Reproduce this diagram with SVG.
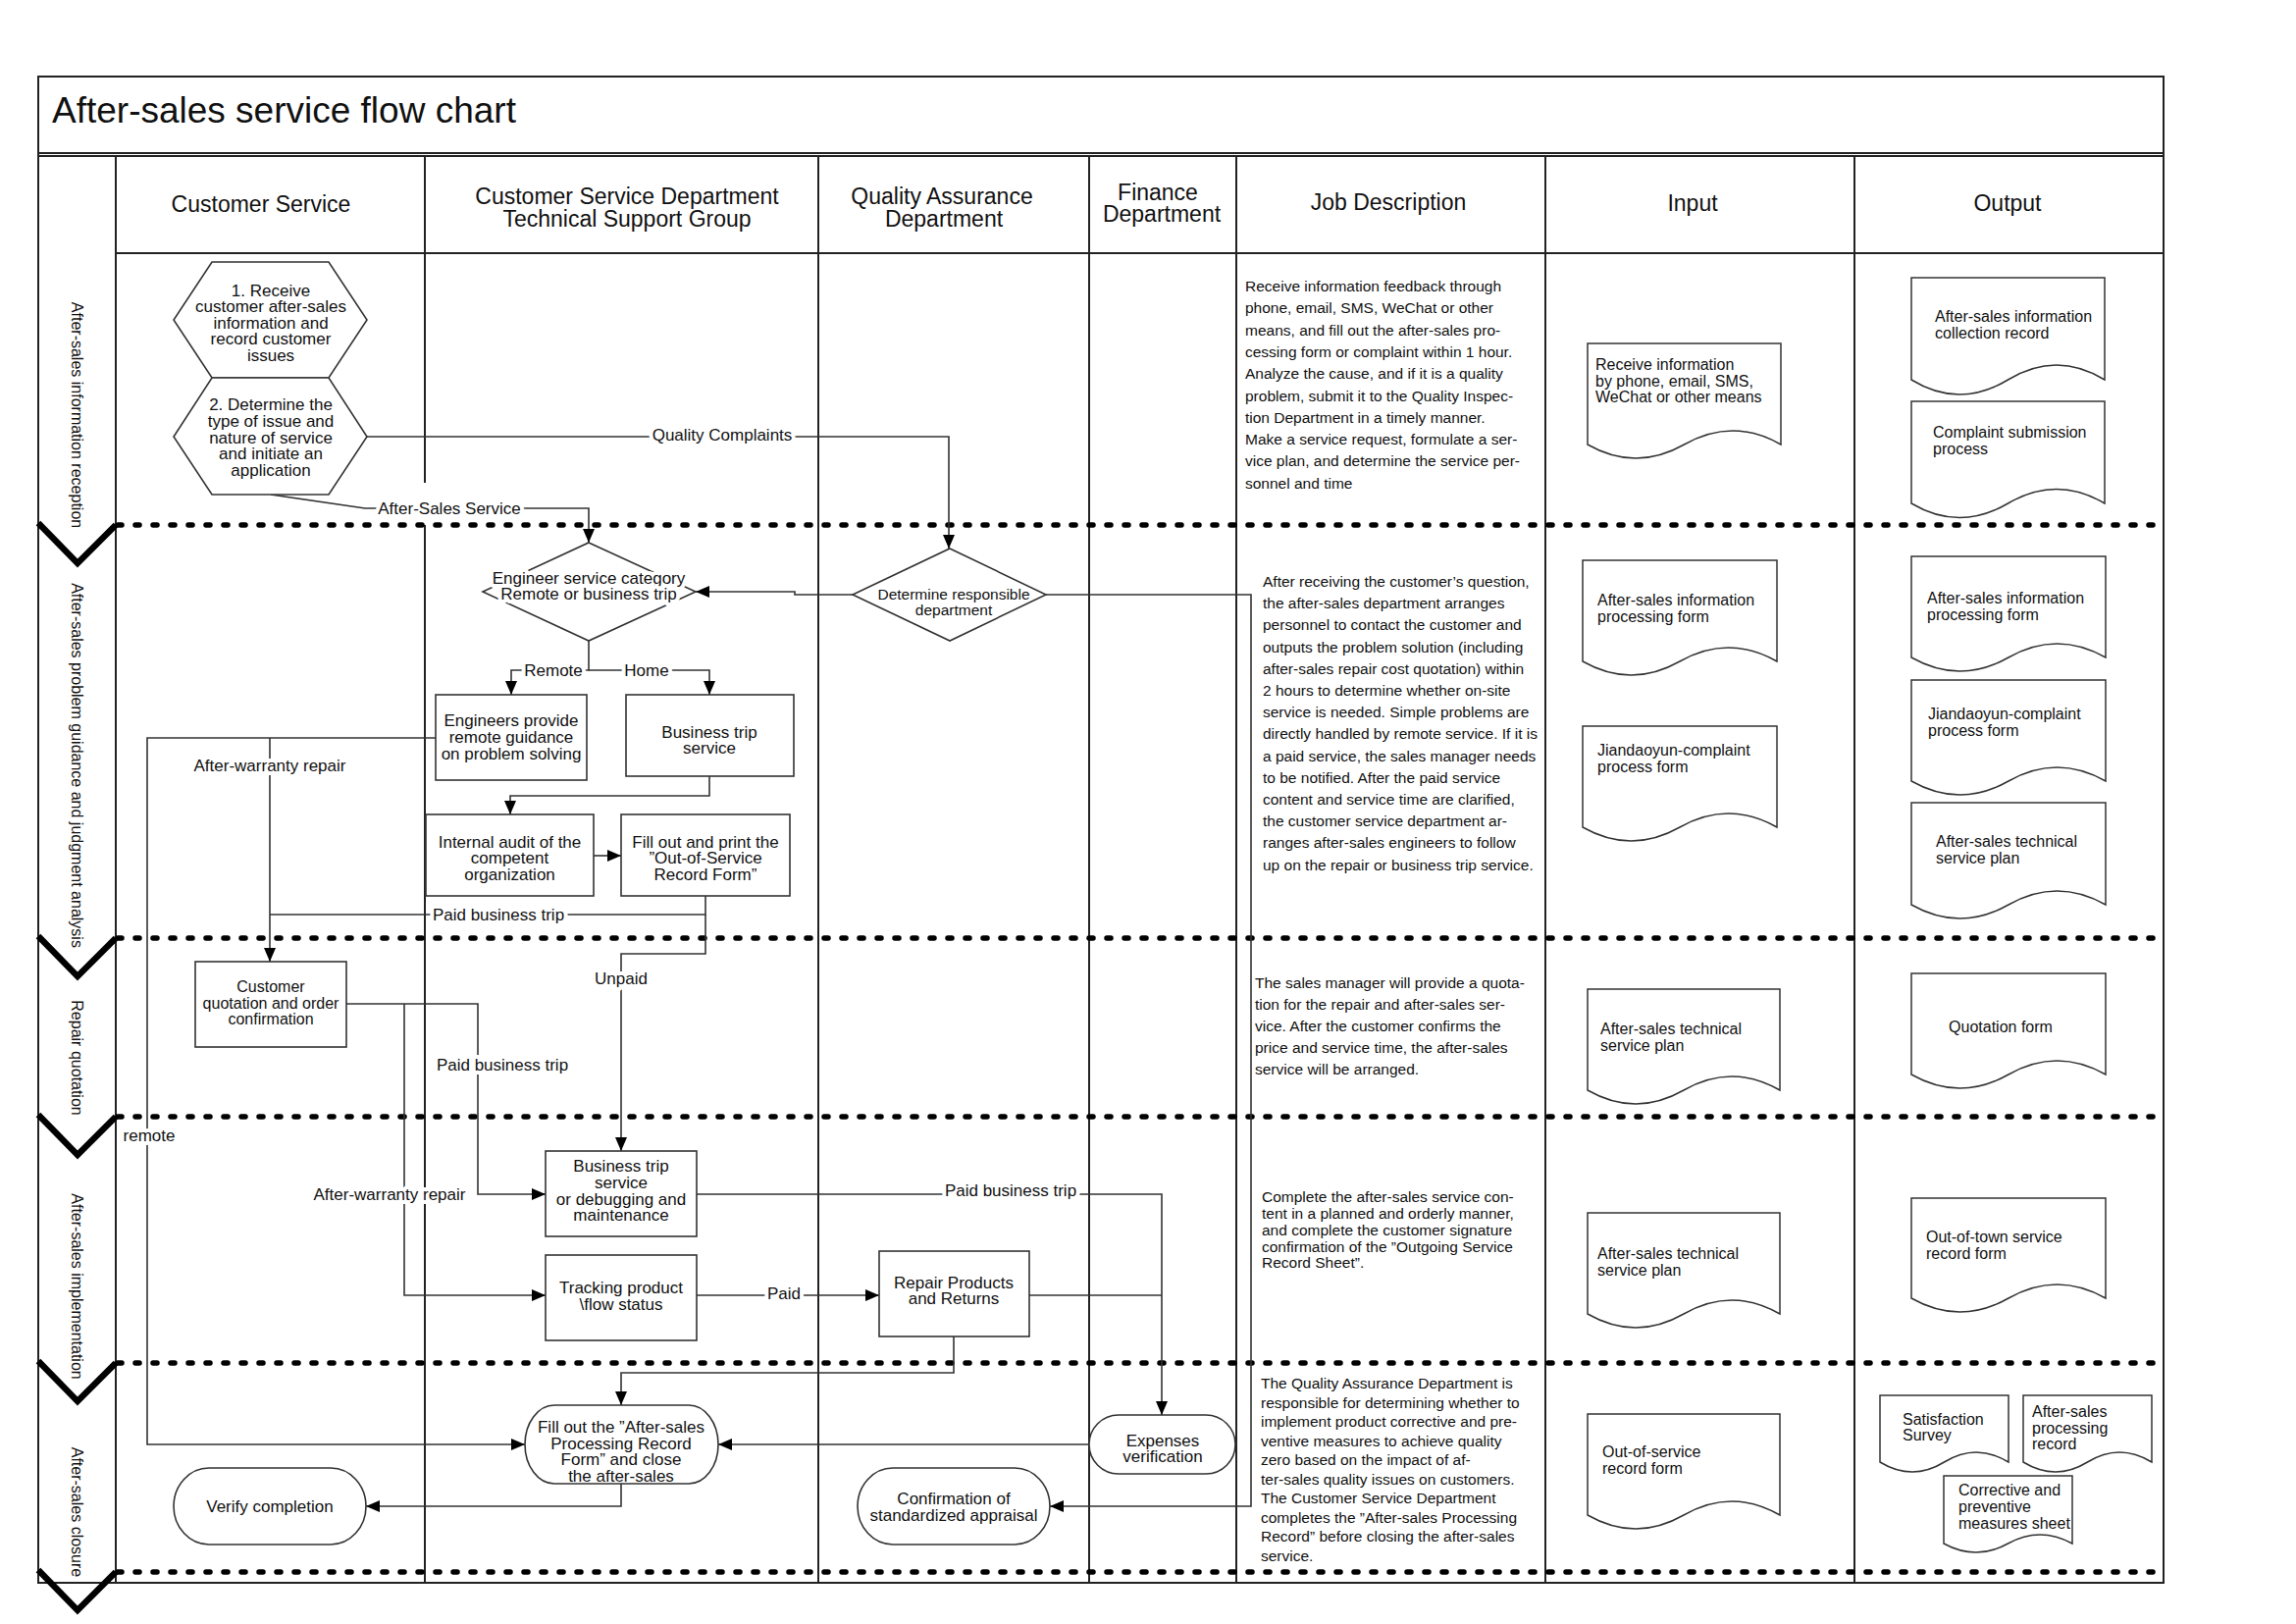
<svg xmlns="http://www.w3.org/2000/svg" width="2340" height="1655" viewBox="0 0 2340 1655">
<style>
.t{font-family:"Liberation Sans",Arial,sans-serif;fill:#111;text-anchor:middle;dominant-baseline:central}
.l{font-family:"Liberation Sans",Arial,sans-serif;fill:#111;text-anchor:start;dominant-baseline:central}
.h{font-size:23px}
.n{font-size:17px}
.d{font-size:16px}
.j{font-size:15.5px}
.lb{font-size:17px;stroke:#fff;stroke-width:8px;stroke-linejoin:round;paint-order:stroke}
.grid{fill:none;stroke:#222;stroke-width:2}
.dot{fill:none;stroke:#000;stroke-width:5.5;stroke-dasharray:4 14;stroke-linecap:round}
.chev{fill:none;stroke:#000;stroke-width:6.5;stroke-linejoin:miter}
.cn{fill:none;stroke:#333;stroke-width:1.6}
.ar{marker-end:url(#ah)}
.box{fill:#fff;stroke:#333;stroke-width:1.6}
.doc{fill:#fff;stroke:#333;stroke-width:1.5}
</style>
<defs>
<marker id="ah" markerUnits="userSpaceOnUse" markerWidth="14" markerHeight="14" refX="14" refY="7" orient="auto"><path d="M0,1 L14,7 L0,13 z" fill="#000"/></marker>
</defs>
<rect width="2340" height="1655" fill="#fff"/>

<g id="frame">
<rect x="39" y="78" width="2166" height="1535" class="grid"/>
<line x1="39" y1="156" x2="2205" y2="156" class="grid"/>
<line x1="39" y1="159" x2="2205" y2="159" class="grid"/>
<line x1="118" y1="258" x2="2205" y2="258" class="grid"/>
<line x1="118" y1="159" x2="118" y2="1613" class="grid"/>
<line x1="433" y1="159" x2="433" y2="492" class="grid"/>
<line x1="433" y1="535" x2="433" y2="1613" class="grid"/>
<line x1="834" y1="159" x2="834" y2="1613" class="grid"/>
<line x1="1110" y1="159" x2="1110" y2="1613" class="grid"/>
<line x1="1260" y1="159" x2="1260" y2="1613" class="grid"/>
<line x1="1575" y1="159" x2="1575" y2="1613" class="grid"/>
<line x1="1890" y1="159" x2="1890" y2="1613" class="grid"/>
<text x="53" y="125" style="font-family:'Liberation Sans',Arial,sans-serif;font-size:37px;fill:#111">After-sales service flow chart</text>
</g>

<g id="headers">
<text class="t h" x="266" y="208">Customer Service</text>
<text class="t h" x="639" y="200">Customer Service Department</text>
<text class="t h" x="639" y="223">Technical Support Group</text>
<text class="t h" x="960" y="200">Quality Assurance</text>
<text class="t h" x="962" y="223">Department</text>
<text class="t h" x="1180" y="196">Finance</text>
<text class="t h" x="1184" y="218">Department</text>
<text class="t h" x="1415" y="206">Job Description</text>
<text class="t h" x="1725" y="207">Input</text>
<text class="t h" x="2046" y="207">Output</text>
</g>

<g id="phases">
<line x1="120" y1="535" x2="2205" y2="535" class="dot"/>
<line x1="120" y1="956" x2="2205" y2="956" class="dot"/>
<line x1="120" y1="1138" x2="2205" y2="1138" class="dot"/>
<line x1="120" y1="1389" x2="2205" y2="1389" class="dot"/>
<line x1="120" y1="1602" x2="2205" y2="1602" class="dot"/>
<polyline points="39,533 79,574 118,535" class="chev"/>
<polyline points="39,954 79,995 118,956" class="chev"/>
<polyline points="39,1136 79,1177 118,1138" class="chev"/>
<polyline points="39,1387 79,1428 118,1389" class="chev"/>
<polyline points="39,1600 79,1641 118,1602" class="chev"/>
<text class="t" style="font-size:16px" transform="translate(78,423) rotate(90)">After-sales information reception</text>
<text class="t" style="font-size:16px" transform="translate(78,780) rotate(90)">After-sales problem guidance and judgment analysis</text>
<text class="t" style="font-size:16px" transform="translate(78,1078) rotate(90)">Repair quotation</text>
<text class="t" style="font-size:16px" transform="translate(78,1311) rotate(90)">After-sales implementation</text>
<text class="t" style="font-size:16px" transform="translate(78,1541) rotate(90)">After-sales closure</text>
</g>

<g id="connectors">
<path class="cn ar" d="M374,445 H967 V559"/>
<path class="cn ar" d="M276,504 L372,518 H600 V553"/>
<path class="cn ar" d="M869,606 H810 V603 H709"/>
<path class="cn ar" d="M1066,606 H1275 V1535 H1070"/>
<path class="cn ar" d="M600,653 V683 H521 V708"/>
<path class="cn ar" d="M600,683 H723 V708"/>
<path class="cn ar" d="M723,791 V811 H520 V830"/>
<path class="cn ar" d="M605,872 H633"/>
<path class="cn ar" d="M444,752 H150 V1472 H535"/>
<path class="cn ar" d="M275,752 V980"/>
<path class="cn" d="M719,913 V932 H275"/>
<path class="cn ar" d="M719,932 V972 H633 V1173"/>
<path class="cn ar" d="M353,1023 H487 V1217 H556"/>
<path class="cn ar" d="M412,1023 V1320 H556"/>
<path class="cn ar" d="M710,1217 H1184 V1442"/>
<path class="cn ar" d="M710,1320 H896"/>
<path class="cn" d="M1049,1320 H1184"/>
<path class="cn ar" d="M972,1362 V1399 H633 V1432"/>
<path class="cn ar" d="M1110,1472 H732"/>
<path class="cn ar" d="M633,1512 V1535 H373"/>
<text class="t lb" x="736" y="443">Quality Complaints</text>
<text class="t lb" x="458" y="518">After-Sales Service</text>
<text class="t lb" x="564" y="683">Remote</text>
<text class="t lb" x="659" y="683">Home</text>
<text class="t lb" x="275" y="780">After-warranty repair</text>
<text class="t lb" x="508" y="932">Paid business trip</text>
<text class="t lb" x="633" y="997">Unpaid</text>
<text class="t lb" x="152" y="1157">remote</text>
<text class="t lb" x="512" y="1085">Paid business trip</text>
<text class="t lb" x="397" y="1217">After-warranty repair</text>
<text class="t lb" x="1030" y="1213">Paid business trip</text>
<text class="t lb" x="799" y="1318">Paid</text>
</g>

<g id="n-receive">
<polygon class="box" points="216,267 335,267 374,326 335,385 216,385 177,326"/>
<text class="t n" x="276" y="296">1. Receive</text>
<text class="t n" x="276" y="312.5">customer after-sales</text>
<text class="t n" x="276" y="329">information and</text>
<text class="t n" x="276" y="345.5">record customer</text>
<text class="t n" x="276" y="362">issues</text>
</g>
<g id="n-determine-type">
<polygon class="box" points="216,385 335,385 374,445 335,504 216,504 177,445"/>
<text class="t n" x="276" y="412">2. Determine the</text>
<text class="t n" x="276" y="429">type of issue and</text>
<text class="t n" x="276" y="446">nature of service</text>
<text class="t n" x="276" y="462">and initiate an</text>
<text class="t n" x="276" y="479">application</text>
</g>
<g id="n-engineer-category">
<polygon class="box" points="600,553 709,603 600,653 492,603"/>
<text class="t lb" x="600" y="589">Engineer service category</text>
<text class="t lb" x="600" y="605">Remote or business trip</text>
</g>
<g id="n-responsible-dept">
<polygon class="box" points="968,559 1066,606 968,653 869,606"/>
<text class="t" style="font-size:15.5px" x="972" y="605">Determine responsible</text>
<text class="t" style="font-size:15.5px" x="972" y="621">department</text>
</g>
<g id="n-remote-guidance">
<rect class="box" x="444" y="708" width="154" height="87"/>
<text class="t n" x="521" y="734">Engineers provide</text>
<text class="t n" x="521" y="751">remote guidance</text>
<text class="t n" x="521" y="768">on problem solving</text>
</g>
<g id="n-business-trip">
<rect class="box" x="638" y="708" width="171" height="83"/>
<text class="t n" x="723" y="746">Business trip</text>
<text class="t n" x="723" y="762">service</text>
</g>
<g id="n-internal-audit">
<rect class="box" x="434" y="830" width="171" height="83"/>
<text class="t n" x="519.5" y="858">Internal audit of the</text>
<text class="t n" x="519.5" y="874">competent</text>
<text class="t n" x="519.5" y="891">organization</text>
</g>
<g id="n-fill-print">
<rect class="box" x="633" y="830" width="172" height="83"/>
<text class="t n" x="719" y="858">Fill out and print the</text>
<text class="t n" x="719" y="874">”Out-of-Service</text>
<text class="t n" x="719" y="891">Record Form”</text>
</g>
<g id="n-quotation">
<rect class="box" x="199" y="980" width="154" height="87"/>
<text class="t" style="font-size:16px" x="276" y="1005">Customer</text>
<text class="t" style="font-size:16px" x="276" y="1022">quotation and order</text>
<text class="t" style="font-size:16px" x="276" y="1038">confirmation</text>
</g>
<g id="n-trip-service">
<rect class="box" x="556" y="1173" width="154" height="87"/>
<text class="t n" x="633" y="1188">Business trip</text>
<text class="t n" x="633" y="1205">service</text>
<text class="t n" x="633" y="1222">or debugging and</text>
<text class="t n" x="633" y="1238">maintenance</text>
</g>
<g id="n-tracking">
<rect class="box" x="556" y="1279" width="154" height="87"/>
<text class="t n" x="633" y="1312">Tracking product</text>
<text class="t n" x="633" y="1329">\flow status</text>
</g>
<g id="n-repair">
<rect class="box" x="896" y="1275" width="153" height="87"/>
<text class="t n" x="972" y="1307">Repair Products</text>
<text class="t n" x="972" y="1323">and Returns</text>
</g>
<g id="n-fill-record">
<rect class="box" x="535" y="1432" width="197" height="80" rx="30" ry="40"/>
<text class="t n" x="633" y="1454">Fill out the ”After-sales</text>
<text class="t n" x="633" y="1471">Processing Record</text>
<text class="t n" x="633" y="1487">Form” and close</text>
<text class="t n" x="633" y="1504">the after-sales</text>
</g>
<g id="n-verify">
<rect class="box" x="177" y="1496" width="196" height="78" rx="36" ry="39"/>
<text class="t n" x="275" y="1535">Verify completion</text>
</g>
<g id="n-confirmation">
<rect class="box" x="874" y="1496" width="196" height="78" rx="36" ry="39"/>
<text class="t n" x="972" y="1527">Confirmation of</text>
<text class="t n" x="972" y="1544">standardized appraisal</text>
</g>
<g id="n-expenses">
<rect class="box" x="1110" y="1442" width="149" height="60" rx="30" ry="30"/>
<text class="t n" x="1185" y="1468">Expenses</text>
<text class="t n" x="1185" y="1484">verification</text>
</g>

<g id="job-descriptions">
<text class="l j" x="1269"><tspan x="1269" y="291">Receive information feedback through</tspan><tspan x="1269" y="313.3">phone, email, SMS, WeChat or other</tspan><tspan x="1269" y="335.6">means, and fill out the after-sales pro-</tspan><tspan x="1269" y="357.9">cessing form or complaint within 1 hour.</tspan><tspan x="1269" y="380.2">Analyze the cause, and if it is a quality</tspan><tspan x="1269" y="402.5">problem, submit it to the Quality Inspec-</tspan><tspan x="1269" y="424.8">tion Department in a timely manner.</tspan><tspan x="1269" y="447.1">Make a service request, formulate a ser-</tspan><tspan x="1269" y="469.4">vice plan, and determine the service per-</tspan><tspan x="1269" y="491.7">sonnel and time</tspan></text>
<text class="l j" x="1287"><tspan x="1287" y="592">After receiving the customer’s question,</tspan><tspan x="1287" y="614.2">the after-sales department arranges</tspan><tspan x="1287" y="636.4">personnel to contact the customer and</tspan><tspan x="1287" y="658.6">outputs the problem solution (including</tspan><tspan x="1287" y="680.8">after-sales repair cost quotation) within</tspan><tspan x="1287" y="703">2 hours to determine whether on-site</tspan><tspan x="1287" y="725.2">service is needed. Simple problems are</tspan><tspan x="1287" y="747.4">directly handled by remote service. If it is</tspan><tspan x="1287" y="769.6">a paid service, the sales manager needs</tspan><tspan x="1287" y="791.8">to be notified. After the paid service</tspan><tspan x="1287" y="814">content and service time are clarified,</tspan><tspan x="1287" y="836.2">the customer service department ar-</tspan><tspan x="1287" y="858.4">ranges after-sales engineers to follow</tspan><tspan x="1287" y="880.6">up on the repair or business trip service.</tspan></text>
<text class="l j" x="1279"><tspan x="1279" y="1001">The sales manager will provide a quota-</tspan><tspan x="1279" y="1023">tion for the repair and after-sales ser-</tspan><tspan x="1279" y="1045">vice. After the customer confirms the</tspan><tspan x="1279" y="1067">price and service time, the after-sales</tspan><tspan x="1279" y="1089">service will be arranged.</tspan></text>
<text class="l j" x="1286"><tspan x="1286" y="1219">Complete the after-sales service con-</tspan><tspan x="1286" y="1236">tent in a planned and orderly manner,</tspan><tspan x="1286" y="1253">and complete the customer signature</tspan><tspan x="1286" y="1269.5">confirmation of the ”Outgoing Service</tspan><tspan x="1286" y="1286">Record Sheet”.</tspan></text>
<text class="l j" x="1285"><tspan x="1285" y="1409">The Quality Assurance Department is</tspan><tspan x="1285" y="1428.5">responsible for determining whether to</tspan><tspan x="1285" y="1448">implement product corrective and pre-</tspan><tspan x="1285" y="1467.5">ventive measures to achieve quality</tspan><tspan x="1285" y="1487">zero based on the impact of af-</tspan><tspan x="1285" y="1506.5">ter-sales quality issues on customers.</tspan><tspan x="1285" y="1526">The Customer Service Department</tspan><tspan x="1285" y="1545.5">completes the ”After-sales Processing</tspan><tspan x="1285" y="1565">Record” before closing the after-sales</tspan><tspan x="1285" y="1584.5">service.</tspan></text>
</g>

<g id="doc-in-1">
<path class="doc" d="M1618,350 H1815 V453 Q1766,425 1716.5,453 T1618,453 Z"/>
<text class="l d"><tspan x="1626" y="371">Receive information</tspan><tspan x="1626" y="387.5">by phone, email, SMS,</tspan><tspan x="1626" y="404">WeChat or other means</tspan></text>
</g>
<g id="doc-out-1a">
<path class="doc" d="M1948,283 H2145 V387 Q2096,357 2046.5,387 T1948,387 Z"/>
<text class="l d"><tspan x="1972" y="322">After-sales information</tspan><tspan x="1972" y="338.5">collection record</tspan></text>
</g>
<g id="doc-out-1b">
<path class="doc" d="M1948,409 H2145 V513 Q2096,484 2046.5,513 T1948,513 Z"/>
<text class="l d"><tspan x="1970" y="440">Complaint submission</tspan><tspan x="1970" y="457">process</tspan></text>
</g>
<g id="doc-in-2a">
<path class="doc" d="M1613,571 H1811 V674 Q1761.5,646 1712,674 T1613,674 Z"/>
<text class="l d"><tspan x="1628" y="611">After-sales information</tspan><tspan x="1628" y="627.5">processing form</tspan></text>
</g>
<g id="doc-in-2b">
<path class="doc" d="M1613,740 H1811 V843 Q1761.5,815 1712,843 T1613,843 Z"/>
<text class="l d"><tspan x="1628" y="764">Jiandaoyun-complaint</tspan><tspan x="1628" y="781">process form</tspan></text>
</g>
<g id="doc-out-2a">
<path class="doc" d="M1948,567 H2146 V670 Q2096.5,642 2047,670 T1948,670 Z"/>
<text class="l d"><tspan x="1964" y="609">After-sales information</tspan><tspan x="1964" y="626">processing form</tspan></text>
</g>
<g id="doc-out-2b">
<path class="doc" d="M1948,693 H2146 V796 Q2096.5,768 2047,796 T1948,796 Z"/>
<text class="l d"><tspan x="1965" y="727">Jiandaoyun-complaint</tspan><tspan x="1965" y="744">process form</tspan></text>
</g>
<g id="doc-out-2c">
<path class="doc" d="M1948,818 H2146 V922 Q2096.5,894 2047,922 T1948,922 Z"/>
<text class="l d"><tspan x="1973" y="857">After-sales technical</tspan><tspan x="1973" y="873.5">service plan</tspan></text>
</g>
<g id="doc-in-3">
<path class="doc" d="M1618,1008 H1814 V1111 Q1765,1083 1716,1111 T1618,1111 Z"/>
<text class="l d"><tspan x="1631" y="1048">After-sales technical</tspan><tspan x="1631" y="1065">service plan</tspan></text>
</g>
<g id="doc-out-3">
<path class="doc" d="M1948,992 H2146 V1095 Q2096.5,1067 2047,1095 T1948,1095 Z"/>
<text class="t d" x="2039" y="1046">Quotation form</text>
</g>
<g id="doc-in-4">
<path class="doc" d="M1618,1236 H1814 V1339 Q1765,1311 1716,1339 T1618,1339 Z"/>
<text class="l d"><tspan x="1628" y="1277">After-sales technical</tspan><tspan x="1628" y="1293.5">service plan</tspan></text>
</g>
<g id="doc-out-4">
<path class="doc" d="M1948,1221 H2146 V1323 Q2096.5,1295 2047,1323 T1948,1323 Z"/>
<text class="l d"><tspan x="1963" y="1260">Out-of-town service</tspan><tspan x="1963" y="1277">record form</tspan></text>
</g>
<g id="doc-in-5">
<path class="doc" d="M1618,1441 H1814 V1544 Q1765,1516 1716,1544 T1618,1544 Z"/>
<text class="l d"><tspan x="1633" y="1479">Out-of-service</tspan><tspan x="1633" y="1496">record form</tspan></text>
</g>
<g id="doc-out-5a">
<path class="doc" d="M1916,1422 H2047 V1490 Q2014,1470 1981.5,1490 T1916,1490 Z"/>
<text class="l d"><tspan x="1939" y="1446">Satisfaction</tspan><tspan x="1939" y="1462">Survey</tspan></text>
</g>
<g id="doc-out-5b">
<path class="doc" d="M2062,1422 H2193 V1490 Q2160,1470 2127.5,1490 T2062,1490 Z"/>
<text class="l d"><tspan x="2071" y="1438">After-sales</tspan><tspan x="2071" y="1455">processing</tspan><tspan x="2071" y="1471">record</tspan></text>
</g>
<g id="doc-out-5c">
<path class="doc" d="M1981,1504 H2112 V1573 Q2079,1555 2046.5,1573 T1981,1573 Z"/>
<text class="l d"><tspan x="1996" y="1518">Corrective and</tspan><tspan x="1996" y="1535">preventive</tspan><tspan x="1996" y="1552">measures sheet</tspan></text>
</g>
</svg>
